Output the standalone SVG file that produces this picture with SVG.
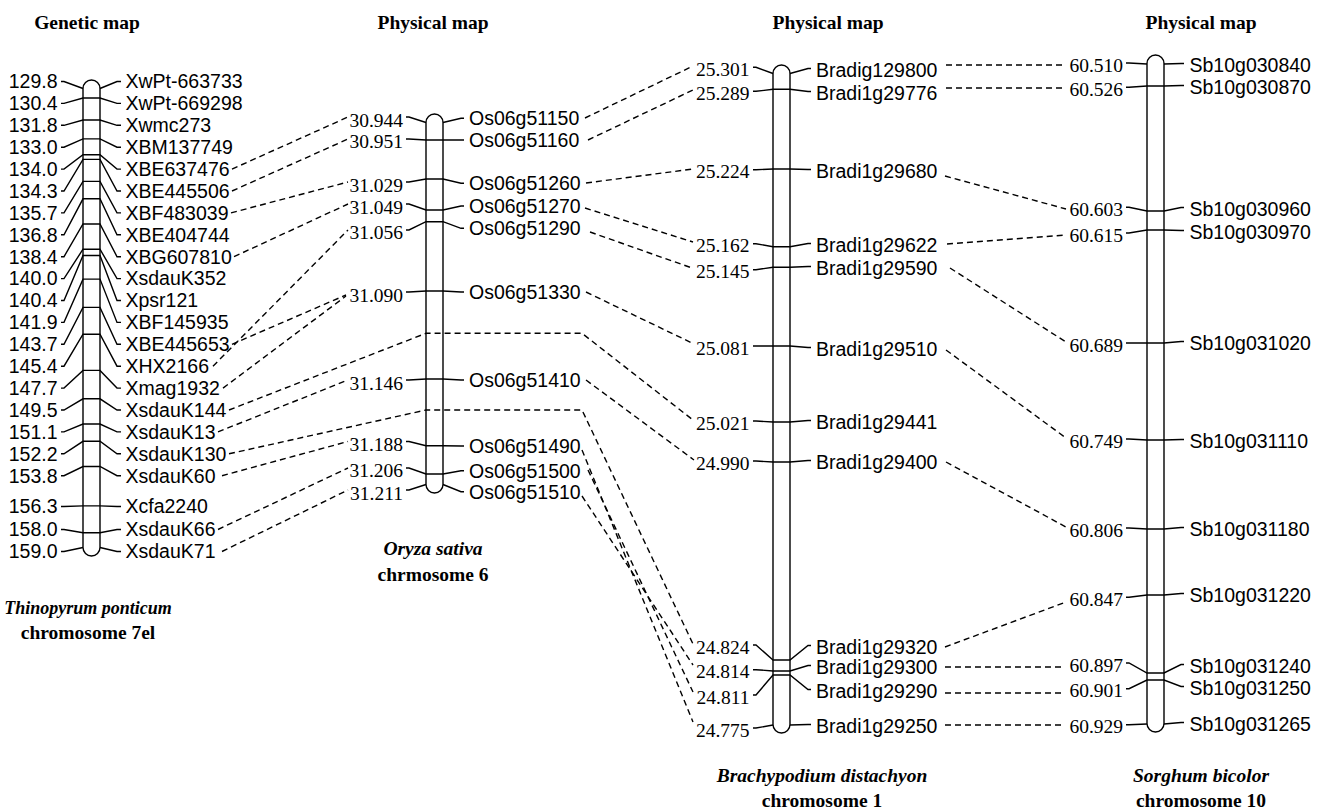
<svg xmlns="http://www.w3.org/2000/svg" width="1325" height="812" viewBox="0 0 1325 812">
<style>
.ch{fill:#fff;stroke:#000;stroke-width:1.4}
.mk{fill:none;stroke:#000;stroke-width:1.4}
.ds{fill:none;stroke:#000;stroke-width:1.4;stroke-dasharray:6 4}
.a{font-family:"Liberation Sans",Arial,sans-serif;font-size:19.5px;fill:#000}
.t{font-family:"Liberation Serif","Times New Roman",serif;font-size:19.5px;text-anchor:end;fill:#000}
.h{font-family:"Liberation Serif","Times New Roman",serif;font-weight:bold;font-size:19.5px;text-anchor:middle;fill:#000}
.n{font-family:"Liberation Sans",Arial,sans-serif;font-size:19.5px;text-anchor:end;fill:#000}
.i{font-style:italic}
</style>
<rect width="1325" height="812" fill="#fff"/>
<g id="titles">
<text class="h" x="87" y="29">Genetic map</text>
<text class="h" x="433" y="29">Physical map</text>
<text class="h" x="828" y="29">Physical map</text>
<text class="h" x="1201" y="29">Physical map</text>
<text class="h i" x="88" y="614" style="font-size:18px">Thinopyrum ponticum</text>
<text class="h" x="88" y="639">chromosome 7el</text>
<text class="h i" x="433" y="555">Oryza sativa</text>
<text class="h" x="433" y="581">chrmosome 6</text>
<text class="h i" x="822" y="782">Brachypodium distachyon</text>
<text class="h" x="822" y="807">chromosome 1</text>
<text class="h i" x="1201" y="782">Sorghum bicolor</text>
<text class="h" x="1201" y="807">chromosome 10</text>
</g>
<g id="genetic-map">
<path class="ch" d="M83,88.5 A8.5,8.5 0 0 1 100,88.5 V547.5 A8.5,8.5 0 0 1 83,547.5 Z"/>
<polyline class="mk" points="61,81.5 64,81.5 83,88.5"/><polyline class="mk" points="100,88.5 117,81.5 121,81.5"/>
<polyline class="mk" points="61,103.4 64,103.4 83,98 100,98 117,103.4 121,103.4"/>
<polyline class="mk" points="61,125.3 64,125.3 83,120 100,120 117,125.3 121,125.3"/>
<polyline class="mk" points="61,147.2 64,147.2 83,138.9 100,138.9 117,147.2 121,147.2"/>
<polyline class="mk" points="61,169.1 64,169.1 83,154.7 100,154.7 117,169.1 121,169.1"/>
<polyline class="mk" points="61,191 64,191 83,159.4 100,159.4 117,191 121,191"/>
<polyline class="mk" points="61,212.9 64,212.9 83,181.4 100,181.4 117,212.9 121,212.9"/>
<polyline class="mk" points="61,234.8 64,234.8 83,198.8 100,198.8 117,234.8 121,234.8"/>
<polyline class="mk" points="61,256.7 64,256.7 83,224 100,224 117,256.7 121,256.7"/>
<polyline class="mk" points="61,278.6 64,278.6 83,249.2 100,249.2 117,278.6 121,278.6"/>
<polyline class="mk" points="61,300.5 64,300.5 83,255.5 100,255.5 117,300.5 121,300.5"/>
<polyline class="mk" points="61,322.4 64,322.4 83,279.1 100,279.1 117,322.4 121,322.4"/>
<polyline class="mk" points="61,344.3 64,344.3 83,307.4 100,307.4 117,344.3 121,344.3"/>
<polyline class="mk" points="61,366.2 64,366.2 83,334.2 100,334.2 117,366.2 121,366.2"/>
<polyline class="mk" points="61,388.1 64,388.1 83,370.4 100,370.4 117,388.1 121,388.1"/>
<polyline class="mk" points="61,410 64,410 83,398.8 100,398.8 117,410 121,410"/>
<polyline class="mk" points="61,431.9 64,431.9 83,424 100,424 117,431.9 121,431.9"/>
<polyline class="mk" points="61,453.8 64,453.8 83,441.3 100,441.3 117,453.8 121,453.8"/>
<polyline class="mk" points="61,475.7 64,475.7 83,466.5 100,466.5 117,475.7 121,475.7"/>
<polyline class="mk" points="61,506.5 64,506.5 83,505.9 100,505.9 117,506.5 121,506.5"/>
<polyline class="mk" points="61,529.5 64,529.5 83,532.7 100,532.7 117,529.5 121,529.5"/>
<polyline class="mk" points="61,551.5 64,551.5 83,547.5"/><polyline class="mk" points="100,547.5 117,551.5 121,551.5"/>
<g class="n">
<text x="57.5" y="88.3">129.8</text><text x="57.5" y="110.2">130.4</text><text x="57.5" y="132.1">131.8</text>
<text x="57.5" y="154">133.0</text><text x="57.5" y="175.9">134.0</text><text x="57.5" y="197.8">134.3</text>
<text x="57.5" y="219.7">135.7</text><text x="57.5" y="241.6">136.8</text><text x="57.5" y="263.5">138.4</text>
<text x="57.5" y="285.4">140.0</text><text x="57.5" y="307.3">140.4</text><text x="57.5" y="329.2">141.9</text>
<text x="57.5" y="351.1">143.7</text><text x="57.5" y="373">145.4</text><text x="57.5" y="394.9">147.7</text>
<text x="57.5" y="416.8">149.5</text><text x="57.5" y="438.7">151.1</text><text x="57.5" y="460.6">152.2</text>
<text x="57.5" y="482.5">153.8</text><text x="57.5" y="513.3">156.3</text><text x="57.5" y="536.3">158.0</text>
<text x="57.5" y="558.3">159.0</text>
</g>
<g class="a">
<text x="125.5" y="88.3">XwPt-663733</text><text x="125.5" y="110.2">XwPt-669298</text><text x="125.5" y="132.1">Xwmc273</text>
<text x="125.5" y="154">XBM137749</text><text x="125.5" y="175.9">XBE637476</text><text x="125.5" y="197.8">XBE445506</text>
<text x="125.5" y="219.7">XBF483039</text><text x="125.5" y="241.6">XBE404744</text><text x="125.5" y="263.5">XBG607810</text>
<text x="125.5" y="285.4">XsdauK352</text><text x="125.5" y="307.3">Xpsr121</text><text x="125.5" y="329.2">XBF145935</text>
<text x="125.5" y="351.1">XBE445653</text><text x="125.5" y="373">XHX2166</text><text x="125.5" y="394.9">Xmag1932</text>
<text x="125.5" y="416.8">XsdauK144</text><text x="125.5" y="438.7">XsdauK13</text><text x="125.5" y="460.6">XsdauK130</text>
<text x="125.5" y="482.5">XsdauK60</text><text x="125.5" y="513.3">Xcfa2240</text><text x="125.5" y="536.3">XsdauK66</text>
<text x="125.5" y="558.3">XsdauK71</text>
</g>
</g>
<g id="oryza-chr6">
<path class="ch" d="M426,122.5 A8.5,8.5 0 0 1 443,122.5 V484.5 A8.5,8.5 0 0 1 426,484.5 Z"/>
<polyline class="mk" points="406,117 409,117 426,122.5"/><polyline class="mk" points="443,122.5 461,118.3 464,118.3"/>
<polyline class="mk" points="406,139 409,139 426,140 443,140 461,140 464,140"/>
<polyline class="mk" points="406,182 409,182 426,179 443,179 461,183.3 464,183.3"/>
<polyline class="mk" points="406,204 409,204 426,210 443,210 461,206 464,206"/>
<polyline class="mk" points="406,230 409,230 426,221.7 443,221.7 461,228.3 464,228.3"/>
<polyline class="mk" points="406,292 409,292 426,291 443,291 461,292 464,292"/>
<polyline class="mk" points="406,380 409,380 426,379 443,379 461,380 464,380"/>
<polyline class="mk" points="406,441.5 409,441.5 426,445.7 443,445.7 461,446 464,446"/>
<polyline class="mk" points="406,468 409,468 426,474 443,474 461,470.7 464,470.7"/>
<polyline class="mk" points="406,490 409,490 426,484.5"/><polyline class="mk" points="443,484.5 461,491.7 464,491.7"/>
<g class="t">
<text x="403" y="126.6">30.944</text><text x="403" y="148.3">30.951</text><text x="403" y="191.6">31.029</text>
<text x="403" y="213.6">31.049</text><text x="403" y="239.3">31.056</text><text x="403" y="301.6">31.090</text>
<text x="403" y="389.6">31.146</text><text x="403" y="450.6">31.188</text><text x="403" y="477.3">31.206</text>
<text x="403" y="499.6">31.211</text>
</g>
<g class="a">
<text x="469" y="125.1">Os06g51150</text><text x="469" y="146.8">Os06g51160</text><text x="469" y="190.1">Os06g51260</text>
<text x="469" y="212.8">Os06g51270</text><text x="469" y="235.1">Os06g51290</text><text x="469" y="298.8">Os06g51330</text>
<text x="469" y="386.8">Os06g51410</text><text x="469" y="452.8">Os06g51490</text><text x="469" y="477.5">Os06g51500</text>
<text x="469" y="498.5">Os06g51510</text>
</g>
</g>
<g id="brachypodium-chr1">
<path class="ch" d="M773,73.5 A8.5,8.5 0 0 1 790,73.5 V724.5 A8.5,8.5 0 0 1 773,724.5 Z"/>
<polyline class="mk" points="753,67.3 756,67.3 773,73.5"/><polyline class="mk" points="790,73.5 808,68.5 811,68.5"/>
<polyline class="mk" points="753,91.3 756,91.3 773,89.3 790,89.3 808,91.5 811,91.5"/>
<polyline class="mk" points="753,169.7 756,169.7 773,169 790,169 808,169.5 811,169.5"/>
<polyline class="mk" points="753,243.7 756,243.7 773,246.7 790,246.7 808,243.5 811,243.5"/>
<polyline class="mk" points="753,269.7 756,269.7 773,267.3 790,267.3 808,266.5 811,266.5"/>
<polyline class="mk" points="753,346 756,346 773,346 790,346 808,347.5 811,347.5"/>
<polyline class="mk" points="753,421 756,421 773,422 790,422 808,420.5 811,420.5"/>
<polyline class="mk" points="753,461 756,461 773,462 790,462 808,460.5 811,460.5"/>
<polyline class="mk" points="753,645 756,645 773,660 790,660 808,645.5 811,645.5"/>
<polyline class="mk" points="753,669.7 756,669.7 773,671 790,671 808,665.5 811,665.5"/>
<polyline class="mk" points="753,695 756,695 773,675 790,675 808,689.5 811,689.5"/>
<polyline class="mk" points="753,728 756,728 773,725"/><polyline class="mk" points="790,725 808,724.5 811,724.5"/>
<g class="t">
<text x="749.5" y="75.9">25.301</text><text x="749.5" y="99.9">25.289</text><text x="749.5" y="178.3">25.224</text>
<text x="749.5" y="252.3">25.162</text><text x="749.5" y="278.3">25.145</text><text x="749.5" y="354.6">25.081</text>
<text x="749.5" y="429.6">25.021</text><text x="749.5" y="469.6">24.990</text><text x="749.5" y="653.6">24.824</text>
<text x="749.5" y="678.3">24.814</text><text x="749.5" y="703.6">24.811</text><text x="749.5" y="736.6">24.775</text>
</g>
<g class="a">
<text x="816" y="76.8">Bradig129800</text><text x="816" y="99.8">Bradi1g29776</text><text x="816" y="177.8">Bradi1g29680</text>
<text x="816" y="251.8">Bradi1g29622</text><text x="816" y="274.8">Bradi1g29590</text><text x="816" y="355.8">Bradi1g29510</text>
<text x="816" y="428.8">Bradi1g29441</text><text x="816" y="468.8">Bradi1g29400</text><text x="816" y="653.8">Bradi1g29320</text>
<text x="816" y="673.8">Bradi1g29300</text><text x="816" y="697.8">Bradi1g29290</text><text x="816" y="732.8">Bradi1g29250</text>
</g>
</g>
<g id="sorghum-chr10">
<path class="ch" d="M1147,63.5 A8.5,8.5 0 0 1 1164,63.5 V723.5 A8.5,8.5 0 0 1 1147,723.5 Z"/>
<polyline class="mk" points="1126,63 1129,63 1147,64"/><polyline class="mk" points="1164,64 1181,63.5 1184,63.5"/>
<polyline class="mk" points="1126,87.3 1129,87.3 1147,86 1164,86 1181,85.5 1184,85.5"/>
<polyline class="mk" points="1126,207.3 1129,207.3 1147,211 1164,211 1181,207.5 1184,207.5"/>
<polyline class="mk" points="1126,233 1129,233 1147,230 1164,230 1181,230.5 1184,230.5"/>
<polyline class="mk" points="1126,343 1129,343 1147,343 1164,343 1181,341.5 1184,341.5"/>
<polyline class="mk" points="1126,439 1129,439 1147,440 1164,440 1181,439.5 1184,439.5"/>
<polyline class="mk" points="1126,528 1129,528 1147,529 1164,529 1181,527.5 1184,527.5"/>
<polyline class="mk" points="1126,597.3 1129,597.3 1147,595 1164,595 1181,593.5 1184,593.5"/>
<polyline class="mk" points="1126,663 1129,663 1147,673 1164,673 1181,664.5 1184,664.5"/>
<polyline class="mk" points="1126,688.7 1129,688.7 1147,680 1164,680 1181,686.5 1184,686.5"/>
<polyline class="mk" points="1126,724.7 1129,724.7 1147,724"/><polyline class="mk" points="1164,724 1181,722.5 1184,722.5"/>
<g class="t">
<text x="1123" y="71.6">60.510</text><text x="1123" y="95.9">60.526</text><text x="1123" y="215.9">60.603</text>
<text x="1123" y="241.6">60.615</text><text x="1123" y="351.6">60.689</text><text x="1123" y="447.6">60.749</text>
<text x="1123" y="536.6">60.806</text><text x="1123" y="605.9">60.847</text><text x="1123" y="671.6">60.897</text>
<text x="1123" y="697.3">60.901</text><text x="1123" y="733.3">60.929</text>
</g>
<g class="a">
<text x="1189.5" y="71.8">Sb10g030840</text><text x="1189.5" y="93.8">Sb10g030870</text><text x="1189.5" y="215.8">Sb10g030960</text>
<text x="1189.5" y="238.8">Sb10g030970</text><text x="1189.5" y="349.8">Sb10g031020</text><text x="1189.5" y="447.8">Sb10g031110</text>
<text x="1189.5" y="535.8">Sb10g031180</text><text x="1189.5" y="601.8">Sb10g031220</text><text x="1189.5" y="672.8">Sb10g031240</text>
<text x="1189.5" y="694.8">Sb10g031250</text><text x="1189.5" y="730.8">Sb10g031265</text>
</g>
</g>
<g id="connectors">
<polyline class="ds" points="232,169.1 348,117"/>
<polyline class="ds" points="232,191 348,139"/>
<polyline class="ds" points="231,212.9 348,182"/>
<polyline class="ds" points="234,256.7 348,204"/>
<polyline class="ds" points="213,366.2 348,230"/>
<polyline class="ds" points="232,344.3 346,295"/>
<polyline class="ds" points="223,388.1 346,296"/>
<polyline class="ds" points="229,410 426,333.3 582,333.3 693,420"/>
<polyline class="ds" points="218,431.9 348,380"/>
<polyline class="ds" points="229,453.8 426,410 582,410 693,644"/>
<polyline class="ds" points="222,475.7 348,441.5"/>
<polyline class="ds" points="218,529.5 348,468"/>
<polyline class="ds" points="222,551.5 348,490"/>
<polyline class="ds" points="585,118 693,66"/>
<polyline class="ds" points="588,140 693,90"/>
<polyline class="ds" points="586,183 693,169"/>
<polyline class="ds" points="585,208 693,242"/>
<polyline class="ds" points="590,232 692,268"/>
<polyline class="ds" points="586,292 694,344"/>
<polyline class="ds" points="586,380 694,460"/>
<polyline class="ds" points="582,450 693,722"/>
<polyline class="ds" points="588,470 693,692"/>
<polyline class="ds" points="582,496 693,665"/>
<polyline class="ds" points="946,65 1066,65"/>
<polyline class="ds" points="946,88 1066,88"/>
<polyline class="ds" points="945,176 1066,209"/>
<polyline class="ds" points="947,244 1066,235"/>
<polyline class="ds" points="950,268 1066,342"/>
<polyline class="ds" points="946,350 1066,438"/>
<polyline class="ds" points="946,462 1066,527"/>
<polyline class="ds" points="945,647 1066,602"/>
<polyline class="ds" points="945,667 1063,667"/>
<polyline class="ds" points="945,693 1063,693"/>
<polyline class="ds" points="945,725 1063,725"/>
</g>
</svg>
